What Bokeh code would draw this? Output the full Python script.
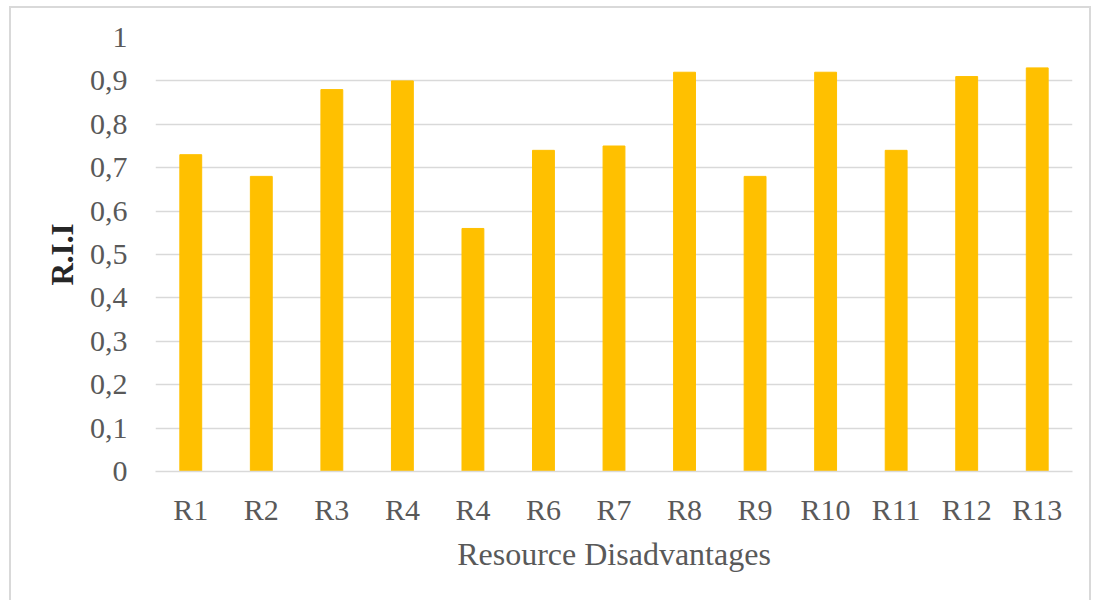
from bokeh.plotting import figure
from bokeh.models import Range1d, FixedTicker, ColumnDataSource
from bokeh.embed import file_html
from bokeh.resources import INLINE

categories = ["R1", "R2", "R3", "R4", "R4", "R6", "R7", "R8", "R9", "R10", "R11", "R12", "R13"]
rii = [0.73, 0.68, 0.88, 0.90, 0.56, 0.74, 0.75, 0.92, 0.68, 0.92, 0.74, 0.91, 0.93]
y_ticks = [0, 0.1, 0.2, 0.3, 0.4, 0.5, 0.6, 0.7, 0.8, 0.9, 1.0]
y_tick_labels = ["0", "0,1", "0,2", "0,3", "0,4", "0,5", "0,6", "0,7", "0,8", "0,9", "1"]

xs = list(range(len(categories)))
src = ColumnDataSource(dict(x=xs, top=rii))

p = figure(width=1082, height=600, output_backend="svg", toolbar_location=None,
           x_range=Range1d(-0.5, len(categories) - 0.5), y_range=Range1d(0, 1),
           min_border_left=144, min_border_right=21, min_border_top=29, min_border_bottom=137)
p.styles = {"margin-left": "9px", "margin-top": "6px", "border": "2px solid #D9D9D9"}
p.outline_line_color = None
p.background_fill_color = "white"
p.border_fill_color = "white"

p.vbar(x="x", top="top", width=0.31, bottom=0, source=src, color="#FFC000")

font = "Liberation Serif"
# y axis
p.yaxis.ticker = FixedTicker(ticks=y_ticks)
p.yaxis.major_label_overrides = {t: l for t, l in zip(y_ticks, y_tick_labels)}
p.yaxis.axis_line_color = None
p.yaxis.major_tick_line_color = None
p.yaxis.minor_tick_line_color = None
p.yaxis.major_label_text_font = font
p.yaxis.major_label_text_font_size = "30px"
p.yaxis.major_label_text_color = "#595959"
p.yaxis.major_label_standoff = 22
p.yaxis.axis_label = "R.I.I"
p.yaxis.axis_label_text_font = font
p.yaxis.axis_label_text_font_size = "31px"
p.yaxis.axis_label_text_font_style = "bold"
p.yaxis.axis_label_text_color = "#262626"
p.yaxis.axis_label_standoff = 7

# x axis
p.xaxis.ticker = FixedTicker(ticks=xs)
p.xaxis.major_label_overrides = {i: c for i, c in zip(xs, categories)}
p.xaxis.axis_line_color = "#D9D9D9"
p.xaxis.axis_line_width = 1.5
p.xaxis.major_tick_line_color = None
p.xaxis.minor_tick_line_color = None
p.xaxis.major_label_text_font = font
p.xaxis.major_label_text_font_size = "30px"
p.xaxis.major_label_text_color = "#595959"
p.xaxis.major_label_standoff = 15
p.xaxis.axis_label = "Resource Disadvantages"
p.xaxis.axis_label_text_font = font
p.xaxis.axis_label_text_font_size = "32px"
p.xaxis.axis_label_text_font_style = "normal"
p.xaxis.axis_label_text_color = "#595959"
p.xaxis.axis_label_standoff = 7

p.xgrid.grid_line_color = None
p.ygrid.grid_line_color = "#D9D9D9"
p.ygrid.grid_line_width = 1.5

open("out.html", "w").write(file_html(p, INLINE))
